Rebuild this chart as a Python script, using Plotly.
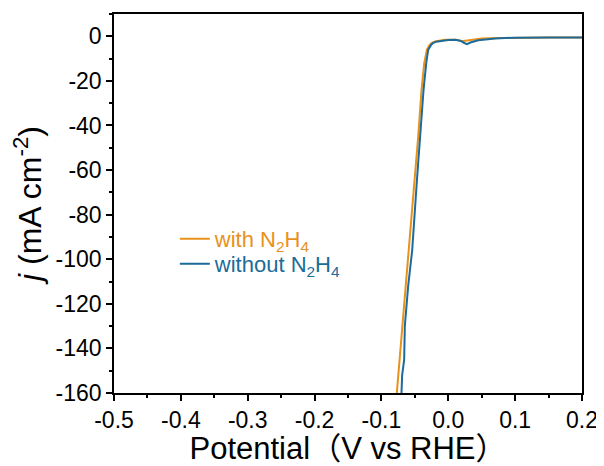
import plotly.graph_objects as go

# with N2H4 (orange)
v_with = [-0.077, -0.073, -0.069, -0.064, -0.060, -0.052, -0.045, -0.040, -0.036, -0.032,
          -0.028, -0.025, -0.020, -0.015, -0.005, 0.005, 0.012, 0.020, 0.030, 0.050, 0.075, 0.100, 0.150, 0.200]
j_with = [-160, -145, -130, -112, -96, -70, -45, -24, -12, -6,
          -4, -3, -2.3, -2.0, -1.6, -1.5, -1.6, -2.2, -1.8, -1.0, -0.8, -0.6, -0.5, -0.5]

# without N2H4 (blue)
v_without = [-0.070, -0.069, -0.066, -0.065, -0.060, -0.054, -0.047, -0.041, -0.037, -0.033, -0.030,
             -0.026, -0.023, -0.018, -0.010, 0.000, 0.010, 0.018, 0.024, 0.028, 0.033, 0.045, 0.070, 0.100, 0.150, 0.200]
j_without = [-160, -152, -145, -130, -112, -96, -65, -40, -24, -12, -6,
             -4, -3, -2.4, -2.0, -1.7, -1.6, -2.0, -3.0, -3.5, -2.8, -1.8, -1.0, -0.6, -0.5, -0.5]

x_ticks = [-0.5, -0.4, -0.3, -0.2, -0.1, 0.0, 0.1, 0.2]
x_tick_labels = ["-0.5", "-0.4", "-0.3", "-0.2", "-0.1", "0.0", "0.1", "0.2"]
y_ticks = [0, -20, -40, -60, -80, -100, -120, -140, -160]

ORANGE = "#E8911C"
BLUE = "#1C6B98"
FONT = "Arial, Liberation Sans, Noto Sans CJK SC, sans-serif"

fig = go.Figure()
fig.add_trace(go.Scatter(
    x=v_with, y=j_with, mode="lines",
    line=dict(color=ORANGE, width=2),
    name=f"<span style='color:{ORANGE}'>with N<sub>2</sub>H<sub>4</sub></span>",
    legend="legend",
))
fig.add_trace(go.Scatter(
    x=v_without, y=j_without, mode="lines",
    line=dict(color=BLUE, width=2),
    name=f"<span style='color:{BLUE}'>without N<sub>2</sub>H<sub>4</sub></span>",
    legend="legend2",
))

axis_common = dict(
    showline=True, linecolor="black", linewidth=1.5, mirror=True,
    ticks="outside", ticklen=6, tickwidth=1.5, tickcolor="black",
    showgrid=False, zeroline=False, automargin=False,
    tickfont=dict(family=FONT, size=23, color="black"),
)

legend_common = dict(
    xanchor="left", yanchor="top",
    bgcolor="rgba(0,0,0,0)", borderwidth=0,
    font=dict(family=FONT, size=22),
)

# page body has an 8px margin, so the figure is 8px smaller than the window
fig.update_layout(
    width=596, height=458,
    margin=dict(l=106, r=22, t=6, b=73),
    paper_bgcolor="white", plot_bgcolor="white",
    font=dict(family=FONT, color="black"),
    showlegend=True,
    legend=dict(x=0.130, y=0.462, **legend_common),
    legend2=dict(x=0.130, y=0.396, **legend_common),
    xaxis=dict(
        range=[-0.5, 0.2], tickvals=x_ticks, ticktext=x_tick_labels,
        minor=dict(dtick=0.05, ticks="outside", ticklen=3, tickwidth=1.5, tickcolor="black", showgrid=False),
        title=dict(text="Potential（V vs RHE）", font=dict(family=FONT, size=31), standoff=1),
        **axis_common,
    ),
    yaxis=dict(
        range=[-160, 10], tickvals=y_ticks, ticktext=[str(t) for t in y_ticks],
        minor=dict(dtick=10, ticks="outside", ticklen=3, tickwidth=1.5, tickcolor="black", showgrid=False),
        title=dict(text="<i>j</i> (mA cm<sup>-2</sup>)", font=dict(family=FONT, size=32), standoff=16),
        **axis_common,
    ),
)

fig.write_html("out.html")
